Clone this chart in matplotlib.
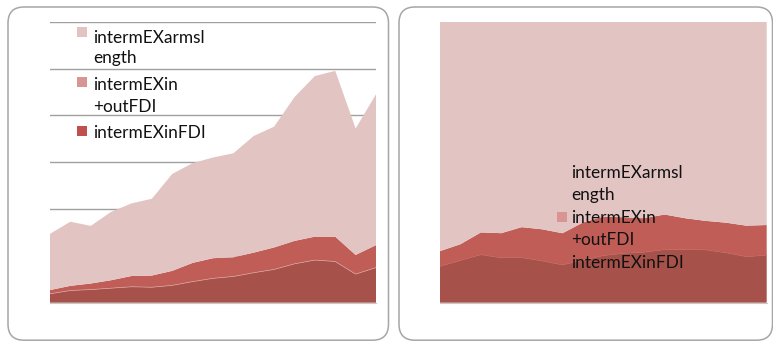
import matplotlib.pyplot as plt
import numpy as np
from matplotlib.patches import FancyBboxPatch

# Intermediate exports by channel, one value per year
years = list(range(1995, 2012))
in_fdi = [0.19, 0.26, 0.28, 0.31, 0.34, 0.33, 0.37, 0.45, 0.52,
          0.56, 0.64, 0.71, 0.83, 0.91, 0.88, 0.61, 0.75]
in_out_fdi = [0.08, 0.10, 0.13, 0.17, 0.23, 0.25, 0.31, 0.40, 0.43,
              0.41, 0.43, 0.47, 0.49, 0.50, 0.53, 0.41, 0.48]
arms_length = [1.20, 1.37, 1.23, 1.46, 1.55, 1.64, 2.07, 2.13, 2.15,
               2.22, 2.49, 2.58, 3.07, 3.43, 3.54, 2.70, 3.22]

series_names = ["intermEXinFDI", "intermEXin\n+outFDI", "intermEXarmsl\nength"]
area_colors = ["#a6514a", "#c05d56", "#e2c4c3"]
legend_colors = ["#c0504d", "#d99594", "#e3c3c2"]

W, H = 773, 341
plt.rcParams["font.family"] = ["Lato", "DejaVu Sans"]


def px(x, y):
    """Pixel position (from top-left) to figure fraction."""
    return x / W, 1 - y / H


fig = plt.figure(figsize=(W / 100, H / 100), dpi=100)

# rounded frames around both charts
for x0, x1 in [(8, 388.5), (399, 772.5)]:
    box = FancyBboxPatch((x0 / 100, 0.8 / 100), (x1 - x0) / 100, (334 - 0.8) / 100,
                         boxstyle="round,pad=0,rounding_size=0.16",
                         transform=fig.dpi_scale_trans, facecolor="none",
                         edgecolor="#a6a6a6", linewidth=1.1, zorder=0)
    fig.add_artist(box)

data = np.array([in_fdi, in_out_fdi, arms_length])
x = np.arange(len(years))

# left: absolute stacked areas
ax1 = fig.add_axes([50 / W, 1 - 302.7 / H, 326 / W, 281 / H])
ax1.stackplot(x, data, colors=area_colors, linewidth=0, zorder=2)
ax1.plot(x, data[0], color="#d9a09c", lw=0.5, zorder=3)
ax1.set_xlim(0, len(x) - 1)
ax1.set_ylim(0, 6)
ax1.set_yticks(range(1, 7))
ax1.yaxis.grid(True, color="#a0a0a0", lw=1.0, zorder=0)
ax1.set_axisbelow(True)

# right: shares of the total
shares = data / data.sum(axis=0)
ax2 = fig.add_axes([440 / W, 1 - 302.7 / H, 326.7 / W, 281 / H])
ax2.stackplot(x, shares, colors=area_colors, linewidth=0, zorder=2)
ax2.plot(x, shares[0], color="#c0605a", lw=0.5, zorder=3)
ax2.set_xlim(0, len(x) - 1)
ax2.set_ylim(0, 1)

for ax in (ax1, ax2):
    ax.set_facecolor("none")
    ax.set_xticks([])
    ax.tick_params(left=False, labelleft=False)
    for side in ("top", "right", "left"):
        ax.spines[side].set_visible(False)
    ax.spines["bottom"].set_color("#c8c8c8")
    ax.spines["bottom"].set_linewidth(0.8)

fs = 12.4


def legend(xm, xt, marks, lines, show):
    for name, col, my, ys, on in zip(series_names, legend_colors, marks, lines, show):
        if on:
            fig.patches.append(plt.Rectangle(px(xm, my + 5), 10 / W, 10 / H,
                                             transform=fig.transFigure, color=col,
                                             lw=0, zorder=5))
        for line, yb in zip(name.split("\n"), ys):
            fig.text(*px(xt, yb), line, fontsize=fs, color="#111111",
                     va="baseline", ha="left", zorder=6)


# left chart legend, bottom series first
legend(77, 93, [130.5, 82, 32], [[138.3], [90, 111.7], [43.3, 63.3]],
       [True, True, True])
# right chart legend sits on the areas; only the middle swatch shows up
legend(557, 571, [263, 216.7, 170], [[268.3], [223.3, 245], [178.3, 200]],
       [False, True, False])

fig.savefig("out.png", dpi=100)
